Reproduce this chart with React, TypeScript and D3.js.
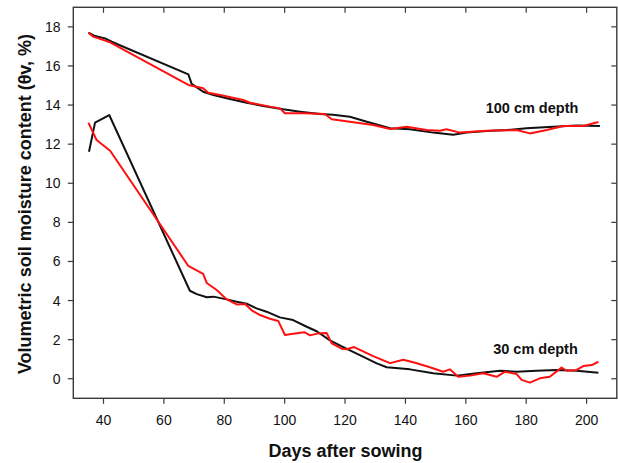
import React from "react";
import * as d3 from "d3";

// 100 cm depth, black series
const d100BlackDays = [35, 37.2, 40.5, 42.7, 68.1, 69.2, 73, 76.4, 80.8, 87.4, 92.9, 99.5, 105.1, 111.7, 116, 121.6, 127.2, 134.9, 141.5, 149.2, 155.8, 160.3, 166.9, 173.5, 180.1, 189, 196.7, 204.4];
const d100BlackVals = [17.7, 17.53, 17.41, 17.24, 15.57, 15.08, 14.68, 14.51, 14.35, 14.12, 13.95, 13.78, 13.66, 13.54, 13.5, 13.4, 13.15, 12.81, 12.76, 12.59, 12.48, 12.59, 12.67, 12.72, 12.81, 12.89, 12.96, 12.93];

// 100 cm depth, red series
const d100RedDays = [35, 36.6, 42.2, 68.1, 70.8, 73, 74.7, 78.6, 86.3, 88.5, 95.1, 98.4, 100.1, 106.2, 113.3, 115.6, 121.6, 129.3, 134.9, 140.4, 147, 151.4, 153.6, 158.1, 166.9, 176.8, 181.2, 186.8, 192.3, 198.9, 203.9];
const d100RedVals = [17.7, 17.5, 17.21, 15.03, 14.94, 14.86, 14.63, 14.51, 14.26, 14.12, 13.92, 13.83, 13.58, 13.58, 13.54, 13.27, 13.15, 12.98, 12.78, 12.89, 12.72, 12.69, 12.76, 12.59, 12.69, 12.72, 12.55, 12.72, 12.93, 12.93, 13.13];

// 30 cm depth, black series
const d30BlackDays = [35.2, 37.2, 41.9, 68.6, 70.9, 74.2, 76.4, 80.8, 84.1, 87.4, 90.7, 94, 98.4, 102.8, 107.3, 110.6, 115, 119.4, 124.9, 130.5, 133.8, 141.5, 149.2, 157, 163.6, 171.3, 176.8, 183.4, 190.1, 196.7, 203.9];
const d30BlackVals = [11.61, 13.1, 13.49, 4.5, 4.33, 4.17, 4.2, 4.06, 3.94, 3.84, 3.6, 3.43, 3.14, 3.0, 2.66, 2.43, 1.96, 1.62, 1.21, 0.79, 0.59, 0.48, 0.28, 0.16, 0.28, 0.41, 0.36, 0.41, 0.45, 0.41, 0.31];

// 30 cm depth, red series
const d30RedDays = [35, 37.7, 42.2, 68.1, 73, 74.2, 77.5, 80.8, 84.1, 86.9, 89.1, 91.8, 95.1, 97.9, 100.1, 102.8, 106.5, 108.4, 111.1, 113.9, 115.6, 118.9, 120.5, 123, 129.3, 134.9, 139.3, 143.2, 148.1, 152.5, 154.7, 157.5, 161.4, 165.8, 170.2, 173, 176.8, 178.5, 181.2, 184.5, 187.8, 191.7, 193.4, 196.7, 198.9, 201.7, 203.9];
const d30RedVals = [13.1, 12.21, 11.66, 5.77, 5.36, 4.9, 4.54, 4.06, 3.8, 3.82, 3.5, 3.26, 3.07, 2.95, 2.24, 2.3, 2.38, 2.22, 2.32, 2.34, 1.81, 1.54, 1.51, 1.62, 1.16, 0.8, 0.97, 0.82, 0.59, 0.36, 0.48, 0.1, 0.16, 0.28, 0.1, 0.36, 0.24, -0.06, -0.2, 0.02, 0.1, 0.57, 0.41, 0.45, 0.65, 0.7, 0.87];

const xTicks = [40, 60, 80, 100, 120, 140, 160, 180, 200];
const yTicks = [0, 2, 4, 6, 8, 10, 12, 14, 16, 18];

const W = 618;
const H = 463;
const left = 73.3;
const right = 616.8;
const top = 7.3;
const bottom = 398.3;
const FONT = "Arial, 'Liberation Sans', Helvetica, sans-serif";

export default function App() {
  const x = d3.scaleLinear().domain([30, 210]).range([left, right]);
  const y = d3.scaleLinear().domain([-1, 19]).range([bottom, top]);

  const line = d3
    .line<[number, number]>()
    .x((d) => x(d[0]))
    .y((d) => y(d[1]));

  const series = [
    { days: d100BlackDays, vals: d100BlackVals, color: "#111111" },
    { days: d100RedDays, vals: d100RedVals, color: "#ff1010" },
    { days: d30BlackDays, vals: d30BlackVals, color: "#111111" },
    { days: d30RedDays, vals: d30RedVals, color: "#ff1010" },
  ];

  const axisColor = "#3a3a3a";
  const tickLen = 5.5;

  return (
    <svg
      width={W}
      height={H}
      style={{ position: "absolute", left: 0, top: 0, background: "#fff" }}
      fontFamily={FONT}
    >
      <rect x={0} y={0} width={W} height={H} fill="#fff" />
      {series.map((s, i) => (
        <path
          key={i}
          d={line(s.days.map((d, j) => [d, s.vals[j]] as [number, number])) || ""}
          fill="none"
          stroke={s.color}
          strokeWidth={2}
          strokeLinejoin="round"
        />
      ))}
      {/* frame */}
      <rect
        x={left}
        y={top}
        width={right - left}
        height={bottom - top}
        fill="none"
        stroke={axisColor}
        strokeWidth={1.4}
      />
      {/* x ticks */}
      {xTicks.map((t) => (
        <g key={"x" + t}>
          <line x1={x(t)} x2={x(t)} y1={bottom} y2={bottom + tickLen} stroke={axisColor} strokeWidth={1.2} />
          <line x1={x(t)} x2={x(t)} y1={top} y2={top + tickLen} stroke={axisColor} strokeWidth={1.2} />
          <text x={x(t)} y={425} textAnchor="middle" fontSize={14} fill="#111">
            {t}
          </text>
        </g>
      ))}
      {/* y ticks */}
      {yTicks.map((t) => (
        <g key={"y" + t}>
          <line x1={left - tickLen} x2={left} y1={y(t)} y2={y(t)} stroke={axisColor} strokeWidth={1.2} />
          <line x1={right - tickLen} x2={right} y1={y(t)} y2={y(t)} stroke={axisColor} strokeWidth={1.2} />
          <text x={60.5} y={y(t)} dy="0.36em" textAnchor="end" fontSize={14} fill="#111">
            {t}
          </text>
        </g>
      ))}
      <text x={532} y={108} dy="0.36em" textAnchor="middle" fontSize={14.5} fontWeight="bold" fill="#111">
        100 cm depth
      </text>
      <text x={535.5} y={349} dy="0.36em" textAnchor="middle" fontSize={14.5} fontWeight="bold" fill="#111">
        30 cm depth
      </text>
      <text x={345.5} y={457} textAnchor="middle" fontSize={18} fontWeight="bold" fill="#111">
        Days after sowing
      </text>
      <text
        transform="translate(31,204) rotate(-90)"
        textAnchor="middle"
        fontSize={18}
        fontWeight="bold"
        fill="#111"
      >
        Volumetric soil moisture content (θv, %)
      </text>
    </svg>
  );
}
